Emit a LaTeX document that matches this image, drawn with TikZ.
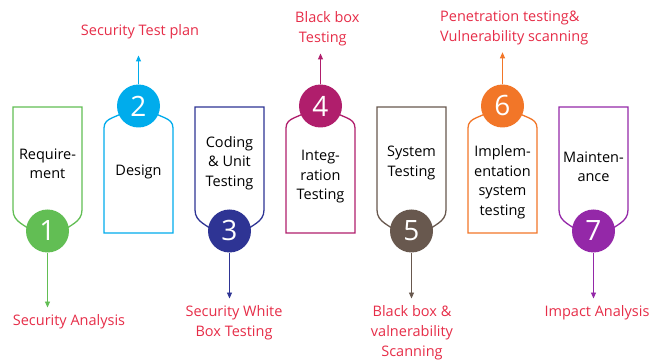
\documentclass[tikz,border=0pt]{standalone}
\usepackage{fontspec}
\setmainfont{Open Sans}
\usetikzlibrary{arrows.meta}
\definecolor{StepGreen}{RGB}{98,190,84}
\definecolor{StepCyan}{RGB}{0,172,236}
\definecolor{StepNavy}{RGB}{46,52,148}
\definecolor{StepPlum}{RGB}{176,30,108}
\definecolor{StepUmber}{RGB}{104,88,78}
\definecolor{StepOrange}{RGB}{242,118,40}
\definecolor{StepViolet}{RGB}{148,40,168}
\definecolor{NoteRed}{RGB}{230,45,72}
\begin{document}
\begin{tikzpicture}[x=1pt,y=1pt,>={Triangle[width=5pt,length=6pt]},
  card/.style={line width=1.3pt,fill=white},
  num/.style={circle,fill=#1,text=white,minimum size=43pt,inner sep=0pt,font=\fontsize{28}{28}\selectfont},
  stage/.style={align=center,font=\fontsize{14.5}{19.5}\selectfont},
  note/.style={text=NoteRed,align=center,inner sep=2pt,font=\fontsize{14.5}{20}\selectfont},
  link/.style={->,line width=0.9pt,shorten >=5pt}]
\useasboundingbox (0,0) rectangle (649,362);
% hanging cards (odd) and standing cards (even)
\foreach \cx/\col in {47.5/StepGreen,229.5/StepNavy,411.5/StepUmber,593.5/StepViolet}
  \draw[card,draw=\col] (\cx-12,128) to[out=135,in=-90] (\cx-34.5,152) -- (\cx-34.5,255) -- (\cx+34.5,255) -- (\cx+34.5,152) to[out=-90,in=45] (\cx+12,128);
\foreach \cx/\col in {138.5/StepCyan,320.5/StepPlum,502.5/StepOrange}
  \draw[card,draw=\col] (\cx-12,252) to[out=-135,in=90] (\cx-34.5,234) -- (\cx-34.5,129) -- (\cx+34.5,129) -- (\cx+34.5,234) to[out=90,in=-45] (\cx+12,252);
% numbers
\node[num=StepGreen] (n1) at (47.5,131) {1};\node[num=StepCyan] (n2) at (138.5,256) {2};
\node[num=StepNavy] (n3) at (229.5,131) {3};\node[num=StepPlum] (n4) at (320.5,256) {4};
\node[num=StepUmber] (n5) at (411.5,131) {5};\node[num=StepOrange] (n6) at (502.5,256) {6};
\node[num=StepViolet] (n7) at (593.5,131) {7};
% stage names
\node[stage] (s1) at (47.5,198) {Require-\\ment};
\node[stage] (s2) at (138.5,190) {Design};
\node[stage] (s3) at (229.5,199) {Coding\\\& Unit\\Testing};
\node[stage] (s4) at (320.5,185) {Integ-\\ration\\Testing};
\node[stage] (s5) at (411.5,199) {System\\Testing};
\node[stage] (s6) at (502.5,180) {Implem-\\entation\\system\\testing};
\node[stage] (s7) at (593.5,195) {Mainten-\\ance};
% security activities
\node[note] (l1) at (69,40) {Security Analysis};
\node[note] (l2) at (140,330) {Security Test plan};
\node[note] (l3) at (234,39) {Security White\\Box Testing};
\node[note,align=left,anchor=west] (l4) at (293,333) {Black box\\\ Testing};
\node[note] (l5) at (412,29) {Black box \&\\valnerability\\Scanning};
\node[note,align=left,anchor=west] (l6) at (438,334) {Penetration testing\&\\Vulnerability scanning};
\node[note] (l7) at (597,49) {Impact Analysis};
\draw[link,StepGreen] (n1) -- (n1 |- l1.north);\draw[link,StepCyan,shorten >=14pt] (n2) -- (n2 |- l2.south);
\draw[link,StepNavy] (n3) -- (n3 |- l3.north);\draw[link,StepPlum] (n4) -- (n4 |- l4.south);
\draw[link,StepUmber] (n5) -- (n5 |- l5.north);\draw[link,StepOrange] (n6) -- (n6 |- l6.south);
\draw[link,StepViolet] (n7) -- (n7 |- l7.north);
\end{tikzpicture}
\end{document}
